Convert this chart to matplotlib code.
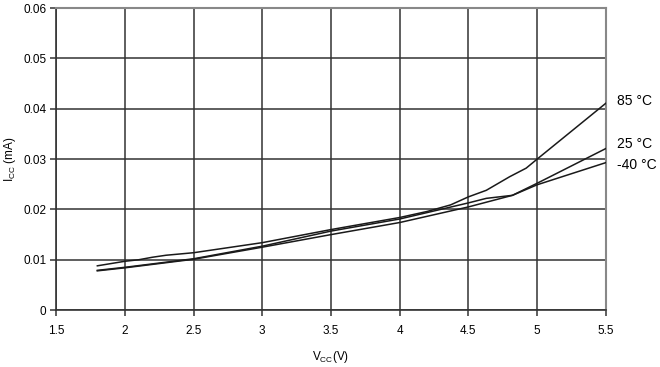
import matplotlib.pyplot as plt

# Supply current vs supply voltage at three temperatures
v_85 = [1.8, 2.0, 2.1, 2.2, 2.3, 2.5, 3.0, 3.5, 4.0, 4.2, 4.37, 4.5, 4.63, 4.8, 4.92, 5.0, 5.5]
i_85 = [0.0088, 0.0097, 0.0100, 0.0105, 0.0109, 0.0114, 0.0134, 0.0160, 0.0184, 0.0196, 0.0209,
        0.0225, 0.0238, 0.0265, 0.0282, 0.0300, 0.0411]

v_25 = [1.8, 2.0, 2.5, 3.0, 3.5, 4.0, 4.5, 4.63, 4.82, 5.0, 5.5]
i_25 = [0.0079, 0.0085, 0.0102, 0.0127, 0.0157, 0.0181, 0.0213, 0.0222, 0.0228, 0.0252, 0.0321]

v_m40 = [1.8, 2.0, 2.5, 3.0, 3.5, 4.0, 4.5, 4.82, 5.0, 5.5]
i_m40 = [0.0078, 0.0084, 0.0101, 0.0125, 0.0150, 0.0174, 0.0205, 0.0228, 0.0249, 0.0293]

labels = ['85 °C', '25 °C', '-40 °C']
label_y = [0.0415, 0.0330, 0.0288]

x_ticks = [1.5, 2, 2.5, 3, 3.5, 4, 4.5, 5, 5.5]
x_ticklabels = ['1.5', '2', '2.5', '3', '3.5', '4', '4.5', '5', '5.5']
y_ticks = [0, 0.01, 0.02, 0.03, 0.04, 0.05, 0.06]
y_ticklabels = ['0', '0.01', '0.02', '0.03', '0.04', '0.05', '0.06']

plt.rcParams['font.family'] = ['Liberation Sans', 'DejaVu Sans']

fig = plt.figure(figsize=(6.6, 3.67), dpi=100)
ax = fig.add_axes([0.085, 0.155, 0.833, 0.823])

for v, i in [(v_85, i_85), (v_25, i_25), (v_m40, i_m40)]:
    ax.plot(v, i, color='#1a1a1a', lw=1.1, zorder=3)

ax.set_xlim(1.5, 5.5)
ax.set_ylim(0, 0.06)
ax.set_xticks(x_ticks)
ax.set_xticklabels(x_ticklabels)
ax.set_yticks(y_ticks)
ax.set_yticklabels(y_ticklabels)
ax.grid(True, color='#333333', lw=1.1)
ax.tick_params(labelsize=8.5, color='#333333', length=4, width=1.1, pad=7)
ax.tick_params(axis='y', pad=3)

for side in ['left', 'bottom']:
    ax.spines[side].set_color('#333333')
    ax.spines[side].set_linewidth(1.2)
for side in ['top', 'right']:
    ax.spines[side].set_color('#888888')
    ax.spines[side].set_linewidth(1.5)

for lab, y in zip(labels, label_y):
    ax.text(5.58, y, lab, fontsize=10, va='center', ha='left', clip_on=False)

ax.set_xlabel('V$_\\mathregular{CC}$(V)', fontsize=8.5, labelpad=8)
ax.set_ylabel('I$_\\mathregular{CC}$ (mA)', fontsize=8.5, labelpad=4)

fig.savefig('out.png', dpi=100)
